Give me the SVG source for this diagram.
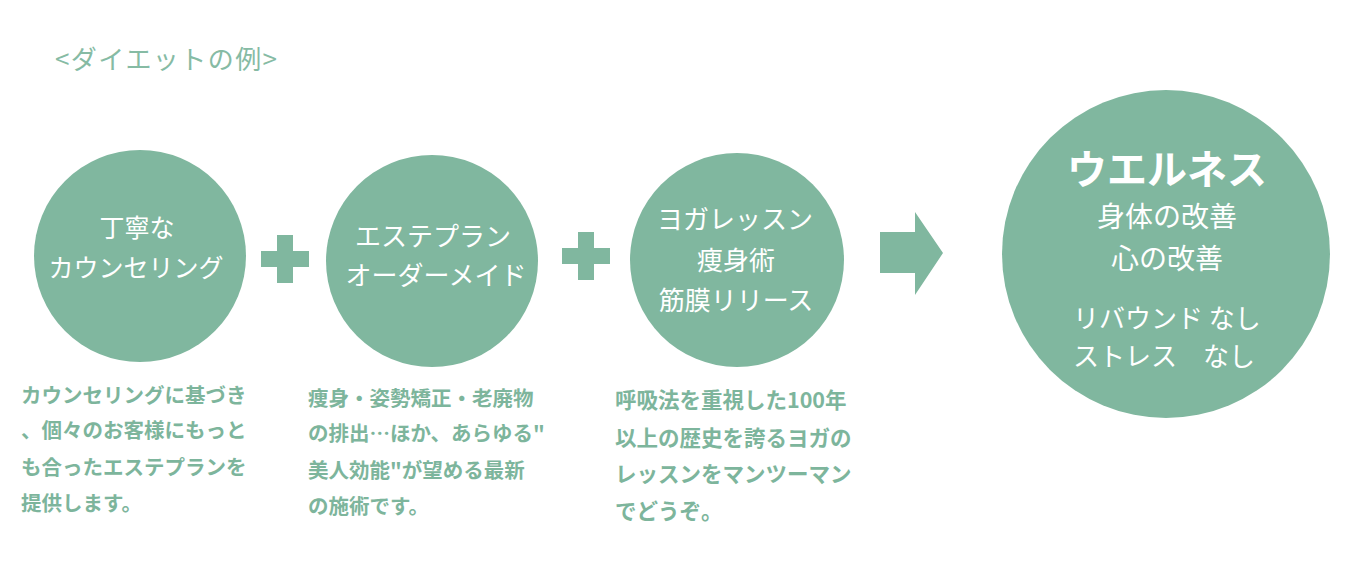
<svg xmlns="http://www.w3.org/2000/svg" width="1358" height="586" viewBox="0 0 1358 586">
<style>
text{font-family:"Noto Sans CJK JP","Noto Sans CJK SC",sans-serif;}
.node{fill:#80b79f;}
.in{fill:#ffffff;text-anchor:middle;font-size:26px;}
.in25{font-size:25px;}
.big{font-size:40px;font-weight:bold;}
.mid{font-size:28px;}
.sub{fill:#ffffff;font-size:26px;}
.desc{fill:#7db59c;font-size:20.5px;font-weight:bold;}
.desc3{font-size:21.5px;}
.title{fill:#86bba4;font-size:26px;}
.conn{fill:#80b79f;}
</style>
<rect width="1358" height="586" fill="#ffffff"/>
<g id="title">
<text class="title" x="55" y="69" textLength="222" lengthAdjust="spacing">&lt;ダイエットの例&gt;</text>
</g>
<g id="connectors">
<path class="conn" d="M277,235 h16 v16 h16 v16 h-16 v16 h-16 v-16 h-16 v-16 h16 z"/>
<path class="conn" d="M578,232 h16 v16 h16 v16 h-16 v16 h-16 v-16 h-16 v-16 h16 z"/>
<path class="conn" d="M880,232 h35 v-20 l28,41 l-28,42 v-22 h-35 z"/>
</g>
<g id="node-counseling">
<circle class="node" cx="140" cy="256" r="106"/>
<text class="in in25" x="137" y="237">丁寧な</text>
<text class="in in25" x="136" y="277">カウンセリング</text>
</g>
<g id="desc-counseling">
<text class="desc" x="21" y="403">カウンセリングに基づき</text>
<text class="desc" x="21" y="438">、個々のお客様にもっと</text>
<text class="desc" x="21" y="475">も合ったエステプランを</text>
<text class="desc" x="21" y="511">提供します。</text>
</g>
<g id="node-esthe">
<circle class="node" cx="432" cy="261" r="106"/>
<text class="in" x="433" y="246">エステプラン</text>
<text class="in" x="436" y="285">オーダーメイド</text>
</g>
<g id="desc-esthe">
<text class="desc" x="308" y="406">痩身・姿勢矯正・老廃物</text>
<text class="desc" x="308" y="441">の排出…ほか、あらゆる"</text>
<text class="desc" x="308" y="478">美人効能"が望める最新</text>
<text class="desc" x="308" y="514">の施術です。</text>
</g>
<g id="node-yoga">
<circle class="node" cx="737" cy="260" r="107"/>
<text class="in" x="735" y="229">ヨガレッスン</text>
<text class="in" x="736" y="270">痩身術</text>
<text class="in" x="736" y="310">筋膜リリース</text>
</g>
<g id="desc-yoga">
<text class="desc desc3" x="615" y="408">呼吸法を重視した100年</text>
<text class="desc desc3" x="615" y="446">以上の歴史を誇るヨガの</text>
<text class="desc desc3" x="615" y="482">レッスンをマンツーマン</text>
<text class="desc desc3" x="615" y="519">でどうぞ。</text>
</g>
<g id="node-wellness">
<circle class="node" cx="1166" cy="254" r="164"/>
<text class="in big" x="1167" y="184">ウエルネス</text>
<text class="in mid" x="1167" y="227">身体の改善</text>
<text class="in mid" x="1167" y="269">心の改善</text>
<text class="sub" x="1073" y="328">リバウンド なし</text>
<text class="sub" x="1073" y="366">ストレス　なし</text>
</g>
</svg>
